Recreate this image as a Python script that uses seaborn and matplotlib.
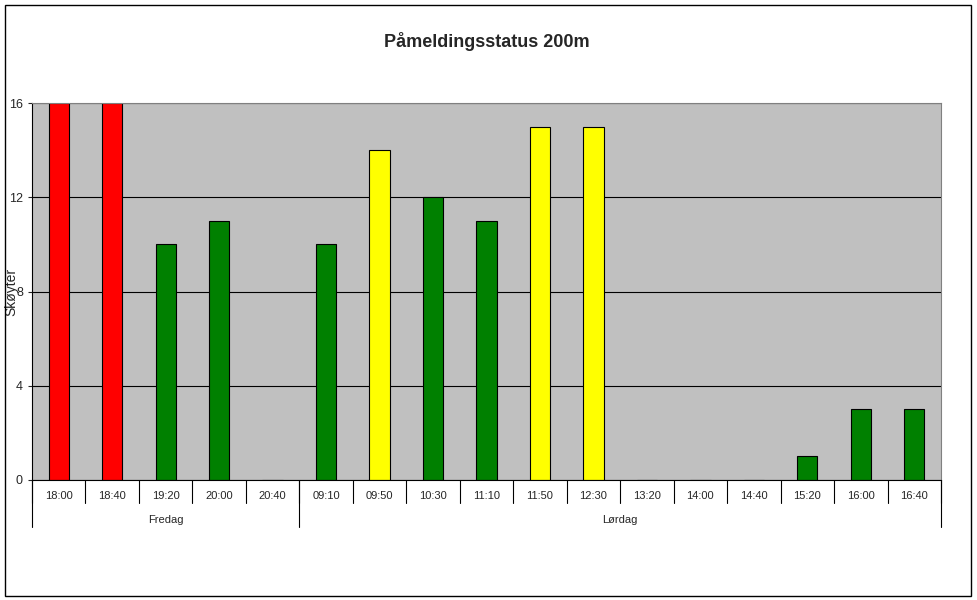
import matplotlib
matplotlib.use("Agg")
import matplotlib.pyplot as plt
import matplotlib.transforms as mtransforms
import seaborn as sns
import pandas as pd

times = ["18:00","18:40","19:20","20:00","20:40","09:10","09:50","10:30","11:10","11:50","12:30",
         "13:20","14:00","14:40","15:20","16:00","16:40"]
values = [16,16,10,11,0,10,14,12,11,15,15,0,0,0,1,3,3]
colors = ["#FF0000","#FF0000","#008000","#008000","#008000","#008000","#FFFF00","#008000","#008000",
          "#FFFF00","#FFFF00","#008000","#008000","#008000","#008000","#008000","#008000"]
groups = ["Fredag","Lørdag"]
group_sizes = [5,12]
yticks = [0,4,8,12,16]

sns.set_style("white")
plt.rcParams['font.family'] = ['Liberation Sans', 'DejaVu Sans']

fig = plt.figure(figsize=(9.77,6), dpi=100)
fig.patches.append(plt.Rectangle((0.005,0.007),0.989,0.985, transform=fig.transFigure,
                                 fill=False, edgecolor="black", lw=1))
ax = fig.add_axes([32/977, 0.2, (941-32)/977, (480-103)/600])
df = pd.DataFrame({"t": times, "v": values})
sns.barplot(data=df, x="t", y="v", hue="t", palette=colors, legend=False, width=0.38,
            edgecolor="black", linewidth=0.8, ax=ax, saturation=1)
ax.set_facecolor("#C0C0C0")
ax.set_ylim(0,16)
ax.set_xlim(-0.5, len(times)-0.5)
ax.set_yticks(yticks)
ax.tick_params(axis="y", labelsize=9, length=3, left=True)
ax.tick_params(axis="x", labelsize=8, length=0, pad=8)
ax.yaxis.grid(True, color="black", lw=0.8)
ax.set_axisbelow(True)
for s in ax.spines.values():
    s.set_color("#808080")
ax.spines["bottom"].set_color("black")
ax.spines["left"].set_color("black")
ax.set_xlabel("")
ax.set_ylabel("Skøyter", fontsize=10)
ax.yaxis.set_label_coords(-14/909, 0.5)
ax.set_title("Påmeldingsstatus 200m", fontsize=13, fontweight="bold", pad=40)

tr = mtransforms.blended_transform_factory(ax.transData, ax.transAxes)
h = (480-103)
for i in range(len(times)+1):
    ax.plot([i-0.5, i-0.5], [0, -23/h], transform=tr, color="black", lw=0.8, clip_on=False)
start = 0
bounds = [0]
for g, n in zip(groups, group_sizes):
    ax.text(start + n/2 - 0.5, -40/h, g, transform=tr, ha="center", va="center", fontsize=8)
    start += n
    bounds.append(start)
for b in bounds:
    ax.plot([b-0.5, b-0.5], [0, -47/h], transform=tr, color="black", lw=0.8, clip_on=False)

fig.savefig("out.png", dpi=100)
